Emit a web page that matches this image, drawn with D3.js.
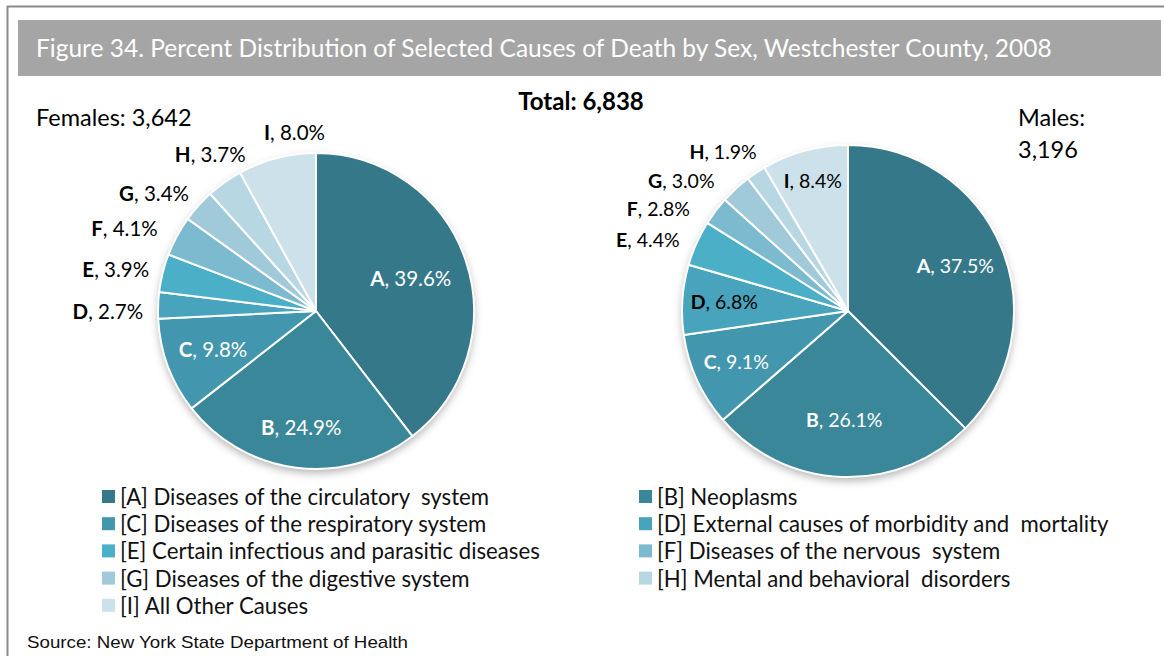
<!DOCTYPE html>
<html>
<head>
<meta charset="utf-8">
<script src="https://cdn.jsdelivr.net/npm/d3@7"></script>
<style>
  html, body { margin: 0; padding: 0; background: #fff; }
  svg { display: block; }
  text { font-family: Lato, "Open Sans", sans-serif; white-space: pre; }
</style>
</head>
<body>
<svg id="chart" width="1164" height="656"></svg>
<script>
// Causes of death, Westchester County 2008 (percent of deaths by sex)
const causeCodes = ["A", "B", "C", "D", "E", "F", "G", "H", "I"];
const causeNames = [
  "Diseases of the circulatory  system",
  "Neoplasms",
  "Diseases of the respiratory system",
  "External causes of morbidity and  mortality",
  "Certain infectious and parasitic diseases",
  "Diseases of the nervous  system",
  "Diseases of the digestive system",
  "Mental and behavioral  disorders",
  "All Other Causes"
];
const femalePct = [39.6, 24.9, 9.8, 2.7, 3.9, 4.1, 3.4, 3.7, 8.0];
const malePct   = [37.5, 26.1, 9.1, 6.8, 4.4, 2.8, 3.0, 1.9, 8.4];
const femaleTotal = "3,642";
const maleTotal = "3,196";
const grandTotal = "6,838";

// Slice colours, dark teal to pale blue
const sliceColors = ["#35788a", "#3a879a", "#4296ad", "#47a4bc", "#4bafc7",
                     "#7bbacf", "#a0c9d9", "#b7d7e3", "#cde1ea"];

const svg = d3.select("#chart");
const W = 1164, H = 656;

// soft shadow under each pie
const defs = svg.append("defs");
const f = defs.append("filter").attr("id", "pieShadow")
  .attr("x", "-20%").attr("y", "-20%").attr("width", "140%").attr("height", "150%");
f.append("feDropShadow").attr("dx", 0).attr("dy", 4).attr("stdDeviation", 4)
  .attr("flood-color", "#000").attr("flood-opacity", 0.3);

svg.append("rect").attr("width", W).attr("height", H).attr("fill", "#fff");

// outer frame (top and left rules)
svg.append("line").attr("x1", 7).attr("x2", W).attr("y1", 6.5).attr("y2", 6.5)
  .attr("stroke", "#8a8a8a").attr("stroke-width", 2);
svg.append("line").attr("x1", 7.5).attr("x2", 7.5).attr("y1", 6).attr("y2", H)
  .attr("stroke", "#8a8a8a").attr("stroke-width", 2);

// title bar
svg.append("rect").attr("x", 18).attr("y", 20).attr("width", 1143).attr("height", 56)
  .attr("fill", "#a5a5a5");
svg.append("text").attr("x", 36).attr("y", 57)
  .attr("fill", "#fff").attr("font-size", 24.5)
  .text("Figure 34. Percent Distribution of Selected Causes of Death by Sex, Westchester County, 2008");

svg.append("text").attr("x", 581).attr("y", 110).attr("text-anchor", "middle")
  .attr("font-size", 24).attr("font-weight", "bold").text("Total: " + grandTotal);

svg.append("text").attr("x", 36).attr("y", 126).attr("font-size", 23.5)
  .text("Females: " + femaleTotal);
const mt = svg.append("text").attr("font-size", 23.5);
mt.append("tspan").attr("x", 1018).attr("y", 126).text("Males:");
mt.append("tspan").attr("x", 1018).attr("y", 158).text(maleTotal);

// pie layouts
const pies = [
  {
    values: femalePct, cx: 316, cy: 311, r: 158, fs: 20.5, gap: 15,
    inside: { A: 0.633, B: 0.747, C: 0.696 },
    nudge: { D: [0, 7], E: [0, 3], F: [-10, 5], G: [-7, 6], H: [15, -6], I: [29, 0] }
  },
  {
    values: malePct, cx: 848, cy: 311, r: 166, fs: 19.5, gap: 15,
    inside: { A: 0.70, B: 0.657, C: 0.741, D: 0.747, I: 0.813 },
    nudge: { E: [-6, 8], F: [-20, 14], G: [-22, 12], H: [-6, 1] }
  }
];

const pie = d3.pie().sort(null).value(d => d);

pies.forEach(p => {
  const g = svg.append("g").attr("transform", `translate(${p.cx},${p.cy})`);
  const arc = d3.arc().innerRadius(0).outerRadius(p.r);
  const arcs = pie(p.values);

  g.append("circle").attr("r", p.r).attr("fill", "#a0a0a0")
    .attr("filter", "url(#pieShadow)");

  g.selectAll("path.slice").data(arcs).join("path")
    .attr("class", "slice")
    .attr("d", arc)
    .attr("fill", (d, i) => sliceColors[i])
    .attr("stroke", "#fff").attr("stroke-width", 2).attr("stroke-linejoin", "round");

  arcs.forEach((d, i) => {
    const code = causeCodes[i];
    const mid = (d.startAngle + d.endAngle) / 2;
    const sx = Math.sin(mid), sy = -Math.cos(mid);
    const isIn = code in p.inside;
    const t = g.append("text").attr("font-size", p.fs)
      .attr("fill", isIn && i < 3 ? "#fff" : "#000")
      .attr("text-anchor", "middle");
    t.append("tspan").attr("font-weight", "bold").text(code);
    t.append("tspan").text(", " + d3.format(".1f")(d.data) + "%");
    let x, y;
    if (isIn) {
      const rr = p.r * p.inside[code];
      x = sx * rr; y = sy * rr;
    } else {
      const w = t.node().getComputedTextLength();
      const h = p.fs * 1.1;
      const rr = p.r + p.gap;
      x = sx * rr + sx * w / 2;
      y = sy * rr + sy * h / 2;
      const n = p.nudge[code] || [0, 0];
      x += n[0]; y += n[1];
    }
    t.attr("x", x).attr("y", y + p.fs * 0.35);
  });
});

// legend, two columns
const legendCols = [{ sx: 102, tx: 120 }, { sx: 639, tx: 657 }];
const legendRow0 = 505, legendStep = 27.2;
causeCodes.forEach((c, i) => {
  const col = legendCols[i % 2];
  const y = legendRow0 + Math.floor(i / 2) * legendStep;
  svg.append("rect").attr("x", col.sx).attr("y", y - 15).attr("width", 13).attr("height", 13)
    .attr("fill", sliceColors[i]);
  svg.append("text").attr("x", col.tx).attr("y", y).attr("font-size", 22.2)
    .attr("fill", "#111").text(`[${c}] ${causeNames[i]}`);
});

svg.append("text").attr("x", 27).attr("y", 648)
  .style("font-family", "'Liberation Sans', Arial, sans-serif")
  .attr("font-size", 17).attr("fill", "#111")
  .attr("textLength", 381).attr("lengthAdjust", "spacingAndGlyphs")
  .text("Source: New York State Department of Health");
</script>
</body>
</html>
